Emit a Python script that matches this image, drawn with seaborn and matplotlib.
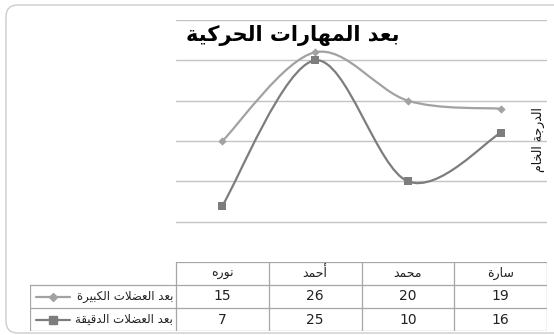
import numpy as np
import matplotlib
matplotlib.use("Agg")
import matplotlib.pyplot as plt
from matplotlib.path import Path
from matplotlib.patches import PathPatch, FancyBboxPatch
import seaborn as sns

# data (table columns left to right)
students = ['نوره', 'أحمد', 'محمد', 'سارة']
gross_motor = [15, 26, 20, 19]
fine_motor = [7, 25, 10, 16]
series_names = ['بعد العضلات الكبيرة', 'بعد العضلات الدقيقة']
title_text = 'بعد المهارات الحركية'
ylabel_text = 'الدرجة الخام'

# --- minimal arabic shaping (matplotlib has no bidi / joining) ---
FORMS = {
    'ا': ('\uFE8D', '\uFE8E', None, None),
    'أ': ('\uFE83', '\uFE84', None, None),
    'ب': ('\uFE8F', '\uFE90', '\uFE91', '\uFE92'),
    'ة': ('\uFE93', '\uFE94', None, None),
    'ت': ('\uFE95', '\uFE96', '\uFE97', '\uFE98'),
    'ج': ('\uFE9D', '\uFE9E', '\uFE9F', '\uFEA0'),
    'ح': ('\uFEA1', '\uFEA2', '\uFEA3', '\uFEA4'),
    'خ': ('\uFEA5', '\uFEA6', '\uFEA7', '\uFEA8'),
    'د': ('\uFEA9', '\uFEAA', None, None),
    'ر': ('\uFEAD', '\uFEAE', None, None),
    'س': ('\uFEB1', '\uFEB2', '\uFEB3', '\uFEB4'),
    'ض': ('\uFEBD', '\uFEBE', '\uFEBF', '\uFEC0'),
    'ع': ('\uFEC9', '\uFECA', '\uFECB', '\uFECC'),
    'ق': ('\uFED5', '\uFED6', '\uFED7', '\uFED8'),
    'ك': ('\uFED9', '\uFEDA', '\uFEDB', '\uFEDC'),
    'ل': ('\uFEDD', '\uFEDE', '\uFEDF', '\uFEE0'),
    'م': ('\uFEE1', '\uFEE2', '\uFEE3', '\uFEE4'),
    'ن': ('\uFEE5', '\uFEE6', '\uFEE7', '\uFEE8'),
    'ه': ('\uFEE9', '\uFEEA', '\uFEEB', '\uFEEC'),
    'و': ('\uFEED', '\uFEEE', None, None),
    'ي': ('\uFEF1', '\uFEF2', '\uFEF3', '\uFEF4'),
}
LAM_ALEF = {'ا': ('\uFEFB', '\uFEFC'), 'أ': ('\uFEF7', '\uFEF8')}


def shape(text):
    chars = list(text)
    n = len(chars)
    res = []
    i = 0
    while i < n:
        c = chars[i]
        if c not in FORMS:
            res.append(c)
            i += 1
            continue
        prev = chars[i - 1] if i > 0 else None
        link_prev = prev in FORMS and FORMS[prev][2] is not None
        if c == 'ل' and i + 1 < n and chars[i + 1] in LAM_ALEF:
            iso, fin = LAM_ALEF[chars[i + 1]]
            res.append(fin if link_prev else iso)
            i += 2
            continue
        nxt = chars[i + 1] if i + 1 < n else None
        link_next = FORMS[c][2] is not None and nxt in FORMS
        iso, fin, ini, med = FORMS[c]
        if link_prev and link_next:
            res.append(med)
        elif link_prev:
            res.append(fin)
        elif link_next:
            res.append(ini)
        else:
            res.append(iso)
        i += 1
    return ''.join(reversed(res))


def smooth_path(xs, ys):
    # catmull-rom -> bezier, like excel's smoothed line
    pts = np.column_stack([xs, ys]).astype(float)
    verts = [pts[0]]
    codes = [Path.MOVETO]
    for i in range(len(pts) - 1):
        p0 = pts[i - 1] if i > 0 else pts[i]
        p1 = pts[i]
        p2 = pts[i + 1]
        p3 = pts[i + 2] if i + 2 < len(pts) else pts[i + 1]
        verts += [p1 + (p2 - p0) / 6, p2 - (p3 - p1) / 6, p2]
        codes += [Path.CURVE4] * 3
    return Path(verts, codes)


sns.set_style('white')
plt.rcParams['font.family'] = ['DejaVu Sans']

W, H = 554, 335
fig = plt.figure(figsize=(W / 100, H / 100), dpi=100)

# outer rounded frame
bg = fig.add_axes([0, 0, 1, 1], zorder=0)
bg.set_xlim(0, W)
bg.set_ylim(0, H)
bg.axis('off')
bg.add_patch(FancyBboxPatch((6, 2), 560, 328, boxstyle='round,pad=0,rounding_size=12',
                            fc='white', ec='#cccccc', lw=1.0))

colors = ['#a2a2a2', '#7d7d7d']
markers = ['D', 's']
msizes = [18, 32]
series = [gross_motor, fine_motor]
x = np.arange(len(students))

ax = fig.add_axes([176 / W, (H - 262) / H, (547 - 176) / W, (262 - 20) / H], zorder=1)
ax.patch.set_alpha(0)
ax.set_xlim(-0.5, len(students) - 0.5)
ax.set_ylim(0, 30)
for v in range(5, 31, 5):
    ax.axhline(v, color='#c4c4c4', lw=1.0, zorder=0)
for vals, col, mk, ms in zip(series, colors, markers, msizes):
    ax.add_patch(PathPatch(smooth_path(x, vals), fc='none', ec=col, lw=1.6, zorder=2))
    sns.scatterplot(x=x, y=vals, marker=mk, s=ms, color=col, edgecolor=col,
                    linewidth=0, ax=ax, zorder=3)
ax.set_xticks([])
ax.set_yticks([])
ax.set_xlabel('')
ax.set_ylabel('')
sns.despine(ax=ax, left=True, bottom=True)

fig.text(293 / W, 1 - 35 / H, shape(title_text), fontsize=15, fontweight='bold',
         ha='center', va='center', color='black')
fig.text(538 / W, 1 - 140 / H, shape(ylabel_text), fontsize=9, rotation=90,
         ha='center', va='center', color='#111111')

# data table under the plot
col_w = (547 - 176) / len(students)
x_left = -0.5 - (176 - 30) / col_w
tax = fig.add_axes([30 / W, (H - 331) / H, (547 - 30) / W, (331 - 262) / H], zorder=1)
tax.set_xlim(x_left, len(students) - 0.5)
tax.set_ylim(0, 3)
tax.axis('off')
lc = '#a6a6a6'
tax.plot([-0.5, len(students) - 0.5], [3, 3], color=lc, lw=0.9)
for yy in [2, 1, 0]:
    tax.plot([x_left, len(students) - 0.5], [yy, yy], color=lc, lw=0.9)
tax.plot([x_left, x_left], [0, 2], color=lc, lw=0.9)
for xx in np.arange(len(students) + 1) - 0.5:
    tax.plot([xx, xx], [0, 3], color=lc, lw=0.9)

for i, name in enumerate(students):
    tax.text(i, 2.5, shape(name), ha='center', va='center', fontsize=9, color='#222222')
for r, (vals, nm, col, mk) in enumerate(zip(series, series_names, colors, markers)):
    yy = 1.5 - r
    for i, v in enumerate(vals):
        tax.text(i, yy, str(v), ha='center', va='center', fontsize=10, color='#222222')
    tax.text(-0.53, yy, shape(nm), ha='right', va='center', fontsize=8.5, color='#222222')
    tax.plot([-2.01, -1.64], [yy, yy], color=col, lw=1.6)
    tax.plot([-1.83], [yy], marker=mk, ms=4.5 if mk == 'D' else 5.5, color=col, lw=0)

fig.savefig('out.png', dpi=100)
